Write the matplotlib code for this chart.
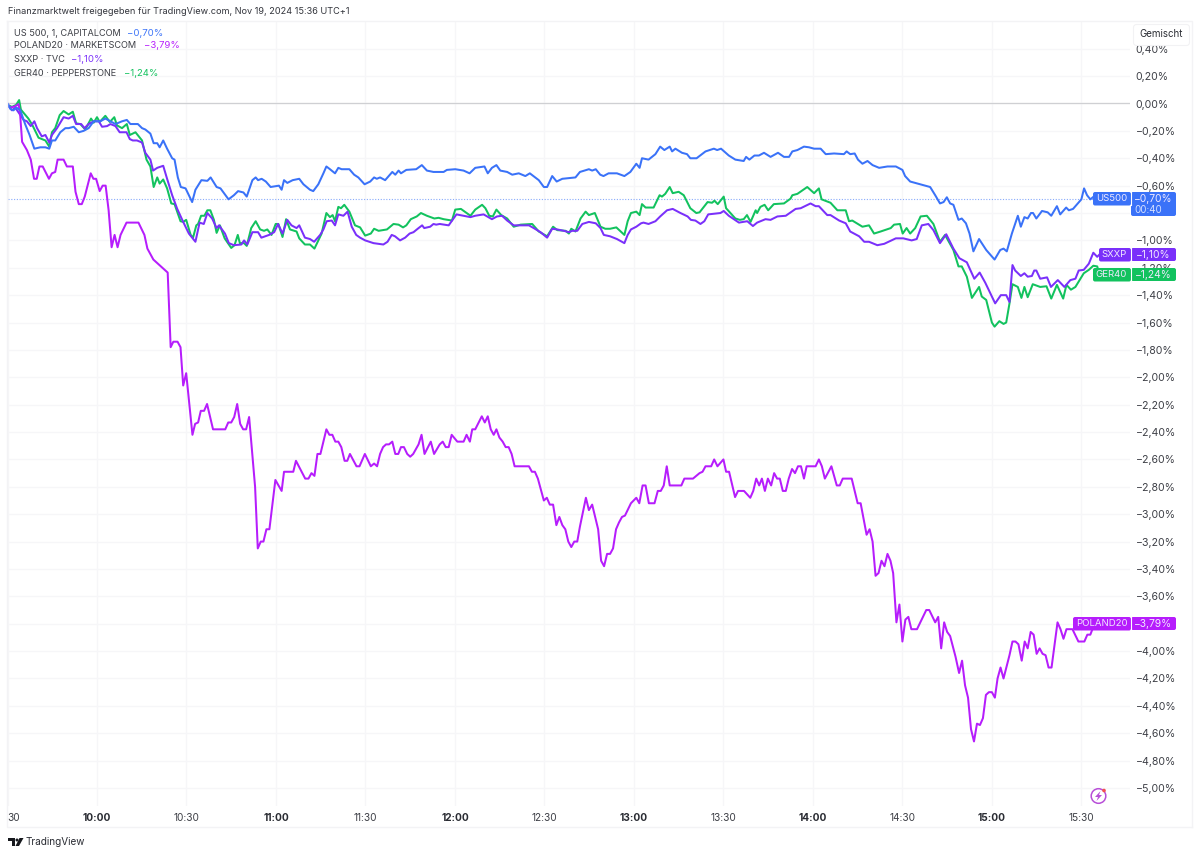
import matplotlib
matplotlib.use('Agg')
import matplotlib.pyplot as plt
from matplotlib.patches import Circle, FancyBboxPatch, Polygon, Rectangle

plt.rcParams['font.family'] = ['Inter', 'DejaVu Sans']

# (minutes after 09:30, percent change)
us500 = [(0,0),(1,-.04),(2,-.05),(3,-.03),(4.3,-.05),(5.9,-.15),(7.4,-.23),(9,-.33),(11,-.32),(12.7,-.32),(14,-.33),(14.9,-.27),(16,-.27),(17.7,-.21),(19.4,-.18),(20.5,-.18),(22.2,-.17),(23.9,-.21),(25.5,-.20),(27.2,-.18),(28.9,-.13),(31.1,-.13),(32.8,-.11),(34.5,-.13),(36.2,-.15),(38.4,-.13),(40,-.12),(41.2,-.15),(43.7,-.15),(45.1,-.18),(46.2,-.19),(47.9,-.22),(49,-.29),(50.2,-.29),(51,-.32),(52.2,-.27),(53.5,-.33),(55.2,-.40),(56,-.41),(57.1,-.54),(58.1,-.61),(59.7,-.62),(61.9,-.72),(63,-.63),(65,-.56),(67,-.565),(68.1,-.54),(70.1,-.61),(71.4,-.62),(74.1,-.70),(75.9,-.67),(77.3,-.64),(79.1,-.65),(80.2,-.68),(82.1,-.56),(83.2,-.54),(84,-.56),(85.2,-.55),(86.6,-.57),(88.2,-.61),(91,-.60),(91.9,-.63),(92.7,-.56),(93.8,-.58),(95.6,-.56),(97.8,-.55),(99.2,-.59),(101.4,-.63),(102.5,-.64),(104.2,-.59),(105.9,-.51),(106.9,-.46),(108.1,-.48),(109.8,-.51),(110.9,-.47),(112,-.48),(114.6,-.48),(116.2,-.52),(117.6,-.54),(119.7,-.59),(121.6,-.57),(122.9,-.54),(123.8,-.55),(124.9,-.54),(126.6,-.56),(129,-.50),(130,-.52),(131.1,-.49),(131.9,-.51),(133.7,-.485),(137,-.48),(138.9,-.45),(140.6,-.49),(142.8,-.50),(146.2,-.50),(147.3,-.485),(150.1,-.48),(152.9,-.49),(154.9,-.51),(156.8,-.47),(159.9,-.46),(161,-.51),(162.4,-.47),(163.9,-.45),(165.2,-.49),(167.5,-.50),(169.2,-.52),(171.4,-.51),(173.6,-.53),(175.1,-.51),(178.1,-.56),(179.8,-.61),(180.9,-.61),(182.6,-.53),(184.1,-.57),(186,-.55),(190.4,-.54),(191.9,-.50),(194.9,-.48),(196,-.49),(197.2,-.48),(198.7,-.52),(199.8,-.53),(201.5,-.51),(204.3,-.51),(206.8,-.53),(208.8,-.50),(210.8,-.44),(211.9,-.47),(212.7,-.40),(214.9,-.41),(217.2,-.37),(218.8,-.315),(220.2,-.34),(222,-.315),(222.8,-.35),(223.9,-.33),(226.1,-.36),(227.8,-.37),(228.9,-.40),(231,-.40),(234,-.35),(236.8,-.33),(237.9,-.34),(239.2,-.33),(241.8,-.38),(244,-.41),(246.8,-.42),(247.6,-.39),(248.7,-.41),(250.4,-.38),(251.9,-.38),(253.6,-.36),(255.8,-.39),(258.3,-.36),(260.3,-.39),(262,-.39),(263.1,-.35),(264.8,-.34),(267,-.315),(268.7,-.32),(270.4,-.33),(272.6,-.33),(274.3,-.37),(277.1,-.365),(280.4,-.37),(281.3,-.35),(282.5,-.37),(284,-.365),(285.1,-.41),(286.6,-.44),(288.3,-.42),(290,-.45),(292.2,-.47),(295,-.46),(297.8,-.46),(300,-.485),(300.9,-.53),(302.6,-.57),(304.3,-.58),(306,-.59),(309.3,-.61),(311,-.67),(312.6,-.73),(313.8,-.72),(314.9,-.685),(316,-.73),(317.1,-.74),(318.8,-.85),(319.9,-.84),(321.3,-.875),(322.5,-.95),(323.8,-1.08),(325.7,-.99),(328.1,-1.07),(330.9,-1.14),(332.8,-1.07),(333.9,-1.06),(335,-1.08),(336.7,-.95),(338.7,-.82),(339.7,-.90),(340.9,-.83),(342,-.84),(343.1,-.80),(343.8,-.80),(344.9,-.84),(346.8,-.785),(348.7,-.795),(349.9,-.82),(351.8,-.75),(352.9,-.81),(354.9,-.76),(355.8,-.78),(357.2,-.77),(360,-.70),(360.9,-.62),(361.9,-.67),(363,-.70),(364.7,-.67),(365.3,-.68),(366,-.70)]

poland20 = [(0,-.005),(1,-.03),(2.6,-.02),(3.7,-.005),(4.2,-.07),(4.9,-.28),(6.5,-.34),(7.8,-.41),(8.9,-.55),(9.8,-.55),(10.7,-.46),(11.8,-.46),(13.9,-.55),(14.9,-.51),(16,-.50),(16.8,-.41),(18.8,-.41),(19.9,-.46),(21.9,-.46),(22.8,-.645),(23.9,-.735),(24.9,-.735),(25.9,-.68),(27.9,-.51),(28.8,-.55),(29.7,-.55),(30.9,-.64),(31.9,-.60),(32.9,-.60),(33.9,-.78),(34.9,-1.05),(35.9,-.96),(36.9,-1.05),(37.9,-.96),(39.9,-.87),(43.9,-.87),(45.9,-.96),(46.9,-1.06),(48.9,-1.14),(53.7,-1.235),(54.7,-1.78),(55.6,-1.74),(57,-1.74),(58,-1.78),(58.9,-2.06),(59.9,-1.97),(62,-2.42),(62.9,-2.34),(63.9,-2.33),(64.8,-2.245),(65.9,-2.245),(66.9,-2.195),(68.9,-2.38),(73,-2.38),(74,-2.33),(75,-2.33),(76,-2.29),(77,-2.195),(78,-2.34),(79,-2.38),(80,-2.38),(81,-2.29),(83,-2.80),(83.9,-3.25),(84.9,-3.20),(85.8,-3.20),(86.8,-3.11),(87.8,-3.11),(89.8,-2.75),(91.9,-2.83),(92.7,-2.69),(95.8,-2.69),(96.7,-2.61),(99.8,-2.74),(100.9,-2.74),(101.9,-2.70),(102.9,-2.72),(103.9,-2.56),(104.9,-2.56),(106.9,-2.38),(107.9,-2.42),(108.9,-2.42),(109.9,-2.47),(110.9,-2.47),(111.9,-2.51),(113,-2.61),(113.9,-2.61),(114.8,-2.56),(117,-2.65),(118,-2.65),(119.8,-2.56),(121.8,-2.65),(122.9,-2.63),(123.9,-2.65),(124.9,-2.56),(125.9,-2.51),(126.9,-2.49),(127.9,-2.49),(129,-2.47),(130,-2.56),(131,-2.56),(131.9,-2.51),(132.9,-2.51),(134,-2.56),(135,-2.58),(136,-2.56),(137.8,-2.49),(138.8,-2.42),(139.8,-2.56),(141.9,-2.47),(143,-2.56),(144.9,-2.49),(145.9,-2.47),(146.9,-2.51),(147.9,-2.51),(148.9,-2.42),(150.8,-2.47),(152.9,-2.47),(153.9,-2.42),(155,-2.47),(155.8,-2.38),(156.8,-2.38),(159,-2.285),(160,-2.33),(161,-2.285),(162,-2.38),(163,-2.42),(163.9,-2.38),(164.9,-2.44),(166,-2.47),(167,-2.51),(168,-2.51),(169,-2.56),(170,-2.65),(174.8,-2.65),(175.8,-2.69),(176.8,-2.69),(177.8,-2.74),(179.8,-2.90),(180.8,-2.88),(181.8,-2.93),(182.9,-2.93),(184,-3.08),(185,-3.02),(186,-3.08),(187,-3.11),(188,-3.20),(189,-3.24),(190,-3.20),(191,-3.20),(191.9,-3.09),(193.9,-2.88),(194.9,-2.97),(196,-2.93),(198,-3.11),(199,-3.34),(200,-3.38),(201,-3.29),(202,-3.29),(203,-3.25),(204,-3.11),(205,-3.06),(206,-3.02),(207,-3.01),(209,-2.92),(209.9,-2.90),(210.8,-2.88),(211.8,-2.92),(212.9,-2.79),(213.9,-2.79),(215,-2.92),(216.9,-2.92),(218,-2.83),(219,-2.83),(220,-2.79),(221,-2.65),(222,-2.79),(225.9,-2.79),(226.9,-2.74),(229.8,-2.74),(232,-2.70),(233,-2.69),(234,-2.65),(235.9,-2.65),(236.9,-2.60),(238,-2.65),(240,-2.60),(240.9,-2.69),(241.9,-2.69),(243.9,-2.875),(244.9,-2.83),(246.9,-2.83),(249,-2.88),(250,-2.83),(251,-2.74),(252,-2.79),(252.9,-2.74),(253.9,-2.83),(254.9,-2.74),(256,-2.79),(257,-2.70),(258,-2.74),(258.9,-2.74),(259.9,-2.83),(260.9,-2.83),(261.9,-2.74),(263,-2.67),(264,-2.70),(265,-2.65),(266,-2.65),(267,-2.74),(267.9,-2.65),(270.9,-2.65),(272,-2.60),(273,-2.65),(274,-2.74),(276.2,-2.65),(278,-2.79),(279,-2.79),(280,-2.74),(283,-2.74),(285,-2.92),(286,-2.92),(288,-3.15),(289,-3.11),(290,-3.20),(291,-3.45),(292,-3.43),(293,-3.34),(294,-3.38),(295,-3.29),(296,-3.34),(296.9,-3.43),(298,-3.79),(299,-3.66),(300,-3.93),(301,-3.77),(302,-3.75),(303,-3.84),(304.9,-3.84),(308,-3.70),(309,-3.70),(311,-3.79),(312,-3.75),(313,-3.98),(314,-3.79),(315,-3.86),(316,-3.89),(317.8,-4.04),(319,-4.16),(320,-4.07),(321,-4.25),(322,-4.34),(323,-4.57),(324,-4.66),(325,-4.53),(326,-4.54),(327,-4.49),(328,-4.32),(329,-4.30),(330,-4.30),(331,-4.34),(331.9,-4.20),(332.9,-4.12),(333.9,-4.20),(335.9,-4.03),(336.9,-3.93),(337.9,-3.93),(338.9,-3.95),(340,-4.07),(341,-3.93),(342,-3.98),(343,-3.86),(344,-3.88),(345,-4.02),(346,-3.98),(347,-4.02),(348,-4.03),(349,-4.12),(350,-4.12),(352,-3.79),(353,-3.84),(354,-3.91),(355,-3.84),(357,-3.84),(359,-3.93),(361,-3.93),(362,-3.88),(363,-3.88),(363.7,-3.84),(364.3,-3.79),(366,-3.79)]

sxxp = [(0,-.01),(1.5,-.05),(2.6,-.03),(4.3,-.085),(5.4,-.12),(6.5,-.13),(7.8,-.165),(9,-.13),(9.9,-.18),(11.5,-.24),(12.7,-.23),(14,-.285),(14.9,-.23),(16.6,-.18),(18.8,-.10),(20.5,-.11),(21.9,-.09),(23,-.15),(24.7,-.15),(25.8,-.18),(27.2,-.15),(28.9,-.13),(30.6,-.13),(31.7,-.17),(33.4,-.165),(34.5,-.15),(36.2,-.165),(37.6,-.21),(39.9,-.21),(41,-.26),(42,-.27),(43.4,-.27),(45.1,-.285),(46.2,-.36),(47.9,-.41),(48.8,-.49),(50.2,-.47),(52.2,-.455),(53.5,-.55),(55.2,-.67),(56.9,-.77),(58.9,-.865),(60.8,-.95),(63,-1.01),(64.4,-.87),(65.8,-.88),(67,-.80),(68.6,-.84),(70.1,-.91),(70.9,-.89),(72.9,-.95),(74.2,-1.02),(75.9,-1.035),(78.4,-1.03),(79.3,-1.00),(80.4,-1.03),(82.1,-.94),(84,-.94),(85.1,-.98),(87.7,-.96),(89.4,-.94),(90.7,-.88),(92.2,-.95),(93.8,-.85),(95.2,-.89),(96.9,-.91),(97.8,-.89),(99.7,-.98),(101.4,-.99),(102.8,-1.01),(104.8,-.96),(105.9,-.92),(107,-.86),(108.7,-.855),(109.8,-.89),(110.9,-.81),(112.6,-.82),(114,-.79),(115.4,-.90),(116.9,-.96),(118.2,-.98),(119.9,-1.0),(122.7,-1.02),(126,-1.03),(127.4,-1.01),(128.8,-.96),(129.9,-.97),(131.6,-1.0),(133.3,-.98),(134.8,-.95),(136.1,-.94),(137.8,-.91),(139,-.89),(139.7,-.91),(141.7,-.90),(142.8,-.88),(143.7,-.885),(144.9,-.88),(147.9,-.89),(149.2,-.85),(150.5,-.81),(152.9,-.82),(155.2,-.83),(156.8,-.82),(159.6,-.81),(162.4,-.845),(164.1,-.825),(165.8,-.82),(167.5,-.855),(169.7,-.89),(174.8,-.89),(176.4,-.91),(178.7,-.94),(180.9,-.98),(182.6,-.915),(184.3,-.92),(186.5,-.93),(188.2,-.94),(189.3,-.93),(191,-.93),(192.7,-.88),(194.9,-.865),(197.2,-.875),(198.8,-.91),(199.9,-.96),(202,-.97),(204.3,-.99),(206.8,-1.02),(207.9,-.96),(209,-.92),(210.8,-.90),(212.4,-.875),(213.2,-.87),(214.9,-.88),(217.2,-.86),(218.8,-.825),(221.1,-.78),(223,-.77),(225.6,-.80),(228,-.825),(229.1,-.85),(230.6,-.855),(232.3,-.88),(233.6,-.86),(234.9,-.81),(239,-.80),(240.1,-.785),(241.8,-.82),(243.5,-.845),(245.2,-.87),(248,-.86),(249.9,-.895),(251.3,-.87),(254.1,-.845),(255.8,-.85),(258.1,-.825),(260.9,-.82),(264.2,-.77),(265.9,-.765),(269.2,-.73),(270.9,-.75),(272,-.75),(274.8,-.815),(275.9,-.815),(278.8,-.855),(281,-.875),(282.5,-.935),(285.5,-.97),(287.2,-1.01),(288.8,-1.01),(291.6,-1.035),(293.9,-1.025),(297.8,-.985),(300.3,-.985),(303.1,-1.0),(304.8,-.99),(306.5,-.89),(308.7,-.88),(310.4,-.925),(312.6,-1.02),(314.7,-.955),(317.1,-1.06),(319.1,-1.13),(321.6,-1.16),(324.1,-1.28),(325.9,-1.235),(327.8,-1.31),(331.1,-1.46),(333,-1.40),(334.8,-1.40),(335.9,-1.45),(336.9,-1.18),(337.8,-1.22),(339.7,-1.26),(340.9,-1.24),(342,-1.265),(343.4,-1.26),(344.2,-1.22),(344.9,-1.22),(346.2,-1.28),(348.5,-1.27),(349.8,-1.34),(352.1,-1.29),(354.3,-1.34),(356.3,-1.29),(358,-1.28),(359.1,-1.22),(360.8,-1.215),(362.5,-1.17),(364,-1.09),(365.3,-1.12),(366.2,-1.10)]

ger40 = [(0,-.01),(1.5,-.025),(2.9,-.01),(3.9,.025),(4.5,-.045),(7,-.11),(8.4,-.16),(10.4,-.25),(12.7,-.27),(14,-.315),(14.9,-.21),(16,-.18),(17.5,-.085),(18.8,-.055),(20.5,-.08),(21.9,-.06),(23,-.145),(24.4,-.15),(26.1,-.19),(28,-.11),(28.9,-.14),(30,-.10),(30.9,-.135),(32.8,-.09),(34.3,-.135),(35.8,-.10),(36.7,-.16),(38.4,-.18),(40,-.15),(41,-.23),(42.9,-.21),(45.1,-.27),(46.6,-.41),(47.9,-.46),(49,-.61),(50.2,-.54),(51,-.585),(52.2,-.555),(53.5,-.62),(54.9,-.73),(56,-.735),(58,-.86),(58.9,-.865),(59.9,-.85),(61.4,-.96),(62.2,-.98),(63.3,-.89),(63.9,-.88),(64.9,-.82),(66,-.82),(67,-.78),(68,-.78),(69.2,-.85),(70.1,-.945),(71.2,-.89),(72.8,-.985),(75,-1.055),(76.1,-1.035),(77.2,-.96),(77.9,-1.02),(79.3,-1.02),(80.2,-1.04),(81.7,-.91),(83.2,-.86),(84.7,-.92),(86,-.93),(87.1,-.92),(88.5,-.96),(89.9,-.88),(90.8,-.88),(92.2,-.975),(93.4,-.845),(94.7,-.92),(96.9,-.935),(97.8,-.985),(99.7,-1.03),(101.4,-1.03),(102.9,-1.06),(105.3,-.95),(106.9,-.80),(108.1,-.83),(109,-.815),(109.8,-.86),(110.9,-.755),(111.8,-.765),(112.9,-.74),(114.6,-.79),(116.5,-.89),(118.2,-.905),(119.9,-.965),(121.8,-.95),(122.9,-.915),(124.4,-.93),(127.2,-.92),(129.4,-.88),(131.1,-.885),(132.6,-.905),(133.7,-.89),(135.2,-.845),(137.2,-.825),(138.6,-.80),(140.6,-.82),(143.1,-.84),(144.5,-.835),(146.2,-.845),(149,-.855),(150.1,-.775),(152,-.77),(155.2,-.82),(156.8,-.775),(159.1,-.74),(160.2,-.765),(161.5,-.82),(162.7,-.825),(163.9,-.775),(165.5,-.815),(167.5,-.84),(169.7,-.90),(172,-.885),(175.9,-.88),(178.1,-.935),(180.9,-.97),(182.9,-.90),(184.3,-.925),(187.1,-.93),(188.2,-.95),(189,-.915),(190.4,-.935),(192.1,-.84),(193.8,-.79),(194.9,-.815),(196.9,-.80),(198.8,-.90),(200.4,-.915),(202,-.915),(204.1,-.905),(206.8,-.96),(207.9,-.86),(209,-.80),(210.8,-.79),(211.9,-.815),(212.7,-.735),(213.9,-.76),(216.6,-.76),(218.6,-.67),(219.4,-.68),(220.5,-.66),(222,-.61),(223,-.655),(225,-.645),(226.7,-.67),(228.9,-.765),(230.9,-.80),(232,-.795),(234.7,-.72),(236.2,-.725),(237,-.71),(238.1,-.735),(240.1,-.68),(240.9,-.765),(244,-.84),(245.5,-.85),(246.8,-.845),(247.9,-.815),(249.1,-.865),(250.8,-.78),(251.3,-.80),(252.4,-.755),(253.8,-.74),(255,-.78),(256.9,-.735),(260.3,-.73),(262.5,-.695),(263.1,-.67),(264.8,-.66),(268.1,-.61),(270.4,-.655),(272,-.62),(272.9,-.70),(275.9,-.725),(278.2,-.78),(281,-.78),(282.1,-.86),(283.2,-.855),(286.6,-.90),(288.8,-.89),(290.5,-.95),(292.7,-.935),(296.1,-.91),(297.2,-.885),(299.2,-.88),(300.1,-.95),(301.4,-.91),(302.6,-.95),(304.3,-.91),(306.1,-.825),(308.2,-.82),(310.4,-.88),(312.6,-1.01),(314.3,-.96),(317.1,-1.07),(318.8,-1.19),(319.9,-1.19),(321.6,-1.265),(323.3,-1.42),(325.7,-1.34),(326.6,-1.41),(328.1,-1.435),(330,-1.60),(330.9,-1.63),(332.5,-1.59),(333.9,-1.61),(334.8,-1.60),(335.9,-1.46),(336.9,-1.32),(338.7,-1.34),(339.9,-1.42),(340.9,-1.34),(342,-1.415),(343.7,-1.32),(346.2,-1.34),(348.3,-1.335),(349.9,-1.425),(351.8,-1.325),(353.9,-1.425),(355,-1.325),(356.5,-1.36),(358,-1.34),(360.8,-1.24),(362.5,-1.215),(364,-1.185),(365.3,-1.19),(366,-1.24)]

time_ticks = list(range(0, 361, 30))
time_labels = ['30', '10:00', '10:30', '11:00', '11:30', '12:00', '12:30', '13:00', '13:30', '14:00', '14:30', '15:00', '15:30']
pct_ticks = [round(0.4 - 0.2 * i, 1) for i in range(28)]
hidden_ticks = [-0.8, -3.8]  # these sit behind the price badges

US_COLOR = '#3a72f8'
PL_COLOR = '#b61dfc'
SX_COLOR = '#7a30fa'
GE_COLOR = '#12c25e'
GRID = '#f6f6f8'
TEXT = '#3d3f46'

W, H = 1200, 855
fig = plt.figure(figsize=(W / 100, H / 100), dpi=100)
L, R, T, B = 7.5, 1130, 22, 806
ax = fig.add_axes([L / W, 1 - B / H, (R - L) / W, (B - T) / H])
ax.set_xlim(0, (R - L) / 2.983)
ax.set_ylim(-(B - 103.5) / 136.9, (103.5 - T) / 136.9)

for s in ax.spines.values():
    s.set_visible(False)
ax.set_axisbelow(True)
ax.grid(True, color=GRID, lw=1)

ax.axhline(0, color='#cfd0d3', lw=0.9, zorder=1)
ax.axhline(-0.70, color=US_COLOR, lw=0.8, ls=(0, (1, 1.5)), alpha=0.6, zorder=1)

for pts, col in [(ger40, GE_COLOR), (sxxp, SX_COLOR), (poland20, PL_COLOR), (us500, US_COLOR)]:
    ax.plot([p[0] for p in pts], [p[1] for p in pts], color=col, lw=1.45, solid_joinstyle='round', zorder=3)


def pct_label(t):
    if t in hidden_ticks:
        return ''
    return f'{t:.2f}%'.replace('.', ',').replace('-', '−')


ax.yaxis.tick_right()
ax.set_yticks(pct_ticks)
ax.set_yticklabels([pct_label(t) for t in pct_ticks])
ax.tick_params(axis='y', length=0, pad=4.2, labelsize=7.6, labelcolor=TEXT)
ax.set_xticks(time_ticks)
ax.set_xticklabels(time_labels)
ax.tick_params(axis='x', length=0, pad=5, labelsize=7.3, labelcolor=TEXT)
for lab, text in zip(ax.get_xticklabels(), time_labels):
    if text.endswith(':00'):
        lab.set_fontweight('bold')
        lab.set_color('#2a2c33')
ax.get_xticklabels()[0].set_ha('left')

# overlay in pixel coordinates for the frame, badges and header
ov = fig.add_axes([0, 0, 1, 1], zorder=5)
ov.set_xlim(0, W)
ov.set_ylim(H, 0)
ov.axis('off')
ov.patch.set_alpha(0)

ov.plot([7, 1192, 1192], [21.5, 21.5, 827], color='#f3f3f5', lw=1)
ov.plot([7, 7, 1192], [21.5, 827, 827], color='#f3f3f5', lw=1)

ov.text(8, 12, 'Finanzmarktwelt freigegeben für TradingView.com, Nov 19, 2024 15:36 UTC+1', fontsize=6.6, color='#33353c', va='center')

legend_rows = [('US 500, 1, CAPITALCOM', '−0,70%', US_COLOR, 33, 127),
               ('POLAND20 · MARKETSCOM', '−3,79%', PL_COLOR, 46, 144),
               ('SXXP · TVC', '−1,10%', SX_COLOR, 59.5, 71),
               ('GER40 · PEPPERSTONE', '−1,24%', GE_COLOR, 73, 124)]
for name, val, col, y, vx in legend_rows:
    ov.text(14, y, name, fontsize=6.6, color=TEXT, va='center')
    ov.text(vx, y, val, fontsize=6.9, color=col, va='center')


def badge(x0, x1, y0, y1, col):
    ov.add_patch(FancyBboxPatch((x0 + 1.5, y0 + 1.5), x1 - x0 - 3, y1 - y0 - 3, boxstyle='round,pad=1.5,rounding_size=2',
                                fc=col, ec='none', mutation_aspect=1, zorder=2))


badge_rows = [('US500', '−0,70%', US_COLOR, 1093, 192, 216),
              ('SXXP', '−1,10%', SX_COLOR, 1099, 248, 261),
              ('GER40', '−1,24%', GE_COLOR, 1093, 268, 281),
              ('POLAND20', '−3,79%', PL_COLOR, 1073, 617, 630)]
for name, val, col, x0, y0, y1 in badge_rows:
    badge(x0, 1131, y0, y0 + 13.5, col)
    badge(1131, 1176, y0, y1, col)
    ov.plot([1131, 1131], [y0, y0 + 13.5], color='white', lw=0.8, zorder=3)
    ov.text((x0 + 1130) / 2, y0 + 6.8, name, fontsize=6.9, color='#f1e9ff', ha='center', va='center', zorder=4)
    ov.text(1153.5, y0 + 6.8, val, fontsize=7.4, color='#f1e9ff', ha='center', va='center', zorder=4)
ov.text(1148, 210, '00:40', fontsize=7, color='#d5e0ff', ha='center', va='center', zorder=4)

ov.add_patch(FancyBboxPatch((1135, 26), 53, 18, boxstyle='round,pad=1.5,rounding_size=3', fc='white', ec='#f2f2f4', lw=0.8, zorder=2))
ov.text(1161, 34, 'Gemischt', fontsize=7, color='#2a2c33', ha='center', va='center', zorder=3)

# lightning icon
ov.add_patch(Circle((1098.5, 796), 7.3, fc='white', ec='#b84fd8', lw=1.1, zorder=2))
ov.add_patch(Polygon([(1100.5, 791), (1095, 797), (1098, 797), (1096.5, 801), (1102, 795), (1099, 795)], fc='#b84fd8', ec='none', zorder=3))
ov.add_patch(Circle((1104, 790.5), 1.8, fc='#f4504f', ec='none', zorder=4))

# TradingView mark and name
ov.add_patch(Rectangle((8, 838), 7, 3, fc='#16181d', ec='none'))
ov.add_patch(Rectangle((11.5, 838), 3.5, 8, fc='#16181d', ec='none'))
ov.add_patch(Circle((17, 840), 1.5, fc='#16181d', ec='none'))
ov.add_patch(Polygon([(19.5, 838), (23.5, 838), (19, 846), (15.5, 846)], fc='#16181d', ec='none'))
ov.text(26, 842, 'TradingView', fontsize=7.2, color='#2a2c33', va='center')

fig.savefig('out.png', dpi=100)
